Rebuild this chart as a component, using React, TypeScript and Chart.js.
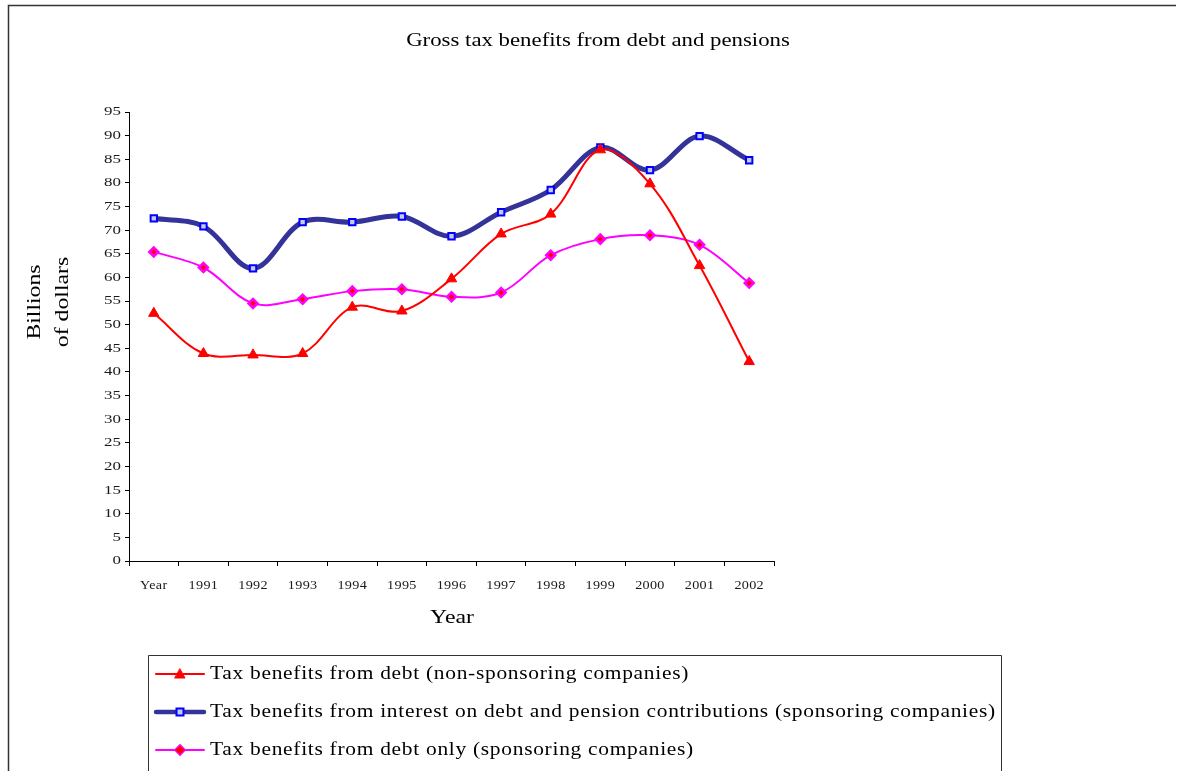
import React, { useEffect, useRef } from 'react';
import { Chart, registerables } from 'chart.js';

Chart.register(...registerables);

const categories = ['Year', '1991', '1992', '1993', '1994', '1995', '1996', '1997', '1998', '1999', '2000', '2001', '2002'];
const debtNonSponsoring = [52.4, 43.9, 43.6, 43.9, 53.7, 52.9, 59.7, 69.2, 73.4, 87.0, 79.8, 62.5, 42.2];
const interestAndPension = [72.5, 70.8, 61.9, 71.7, 71.7, 72.9, 68.7, 73.8, 78.5, 87.5, 82.7, 89.9, 84.8];
const debtOnlySponsoring = [65.4, 62.1, 54.5, 55.4, 57.1, 57.5, 55.9, 56.8, 64.7, 68.1, 68.9, 66.9, 58.8];
const yTicks = [0, 5, 10, 15, 20, 25, 30, 35, 40, 45, 50, 55, 60, 65, 70, 75, 80, 85, 90, 95];

const seriesNames = [
  'Tax benefits from debt (non-sponsoring companies)',
  'Tax benefits from interest on debt and pension contributions (sponsoring companies)',
  'Tax benefits from debt only (sponsoring companies)',
];
const titleText = 'Gross tax benefits from debt and pensions';
const xTitle = 'Year';
const yTitleLines = ['Billions', 'of dollars'];

const SERIF = '"Liberation Serif", "Times New Roman", serif';

function stretchedText(ctx: CanvasRenderingContext2D, text: string, x: number, y: number, sx: number, rot = 0) {
  ctx.save();
  ctx.translate(x, y);
  if (rot) ctx.rotate(rot);
  ctx.scale(sx, 1);
  ctx.fillText(text, 0, 0);
  ctx.restore();
}

function drawMarker(ctx: CanvasRenderingContext2D, kind: number, x: number, y: number) {
  ctx.save();
  if (kind === 0) {
    ctx.fillStyle = '#ff0000';
    ctx.strokeStyle = '#ff0000';
    ctx.lineWidth = 1;
    ctx.beginPath();
    ctx.moveTo(x, y - 5);
    ctx.lineTo(x + 5, y + 4);
    ctx.lineTo(x - 5, y + 4);
    ctx.closePath();
    ctx.fill();
    ctx.stroke();
  } else if (kind === 1) {
    ctx.fillStyle = '#c8c8e8';
    ctx.strokeStyle = '#0000ff';
    ctx.lineWidth = 2;
    ctx.fillRect(x - 3.5, y - 3.5, 7, 7);
    ctx.strokeRect(x - 3.5, y - 3.5, 7, 7);
  } else {
    ctx.fillStyle = '#ff0000';
    ctx.strokeStyle = '#ff00ff';
    ctx.lineWidth = 2.5;
    ctx.beginPath();
    ctx.moveTo(x, y - 4.5);
    ctx.lineTo(x + 4.5, y);
    ctx.lineTo(x, y + 4.5);
    ctx.lineTo(x - 4.5, y);
    ctx.closePath();
    ctx.stroke();
    ctx.fill();
  }
  ctx.restore();
}

const decorPlugin = {
  id: 'decor',
  afterDraw(chart: any) {
    const ctx: CanvasRenderingContext2D = chart.ctx;
    const xs = chart.scales.x;
    const ys = chart.scales.y;
    ctx.save();
    // outer frame
    ctx.strokeStyle = '#333333';
    ctx.lineWidth = 1.5;
    ctx.beginPath();
    ctx.moveTo(8.5, 771);
    ctx.lineTo(8.5, 5.5);
    ctx.lineTo(1176, 5.5);
    ctx.stroke();

    ctx.fillStyle = '#000000';
    ctx.textBaseline = 'middle';

    // tick labels
    ctx.fillStyle = '#1a1a1a';
    ctx.textAlign = 'center';
    ctx.font = `13.5px ${SERIF}`;
    (ctx as any).letterSpacing = '0.3px';
    categories.forEach((c, i) => {
      stretchedText(ctx, c, xs.getPixelForValue(i), 585, 1.05);
    });
    (ctx as any).letterSpacing = '0px';
    ctx.textAlign = 'right';
    ctx.font = `13px ${SERIF}`;
    yTicks.forEach((v) => {
      stretchedText(ctx, String(v), 121, ys.getPixelForValue(v), 1.3);
    });

    // title
    ctx.fillStyle = '#000000';
    ctx.textAlign = 'center';
    ctx.font = `19px ${SERIF}`;
    stretchedText(ctx, titleText, 598, 41, 1.2);

    // x title
    stretchedText(ctx, xTitle, 452, 618, 1.25);

    // y title
    stretchedText(ctx, yTitleLines[0], 35, 302, 1.25, -Math.PI / 2);
    stretchedText(ctx, yTitleLines[1], 63, 302, 1.25, -Math.PI / 2);

    // legend box
    ctx.strokeStyle = '#333333';
    ctx.lineWidth = 1;
    ctx.beginPath();
    ctx.moveTo(148.5, 771);
    ctx.lineTo(148.5, 655.5);
    ctx.lineTo(1001.5, 655.5);
    ctx.lineTo(1001.5, 771);
    ctx.stroke();

    const rowsY = [674, 712, 750];
    const colors = ['#ff0000', '#333399', '#ff00ff'];
    const widths = [2, 4.5, 2];
    ctx.font = `18px ${SERIF}`;
    ctx.textAlign = 'left';
    (ctx as any).letterSpacing = '0.6px';
    rowsY.forEach((y, i) => {
      ctx.strokeStyle = colors[i];
      ctx.lineWidth = widths[i];
      ctx.lineCap = 'round';
      ctx.beginPath();
      ctx.moveTo(156, y);
      ctx.lineTo(204, y);
      ctx.stroke();
      drawMarker(ctx, i, 180, y);
      ctx.fillStyle = '#000000';
      stretchedText(ctx, seriesNames[i], 210, y, 1.19);
    });
    (ctx as any).letterSpacing = '0px';
    ctx.restore();
  },
};

export default function App() {
  const ref = useRef<HTMLCanvasElement | null>(null);

  useEffect(() => {
    if (!ref.current) return;
    const chart = new Chart(ref.current, {
      type: 'line',
      data: {
        labels: categories,
        datasets: [
          {
            label: seriesNames[0],
            data: debtNonSponsoring,
            borderColor: '#ff0000',
            backgroundColor: '#ff0000',
            borderWidth: 2,
            pointStyle: 'triangle',
            pointRadius: 6,
            pointBorderWidth: 1,
            pointBackgroundColor: '#ff0000',
            pointBorderColor: '#ff0000',
            tension: 0.35,
            order: 1,
          },
          {
            label: seriesNames[1],
            data: interestAndPension,
            borderColor: '#333399',
            backgroundColor: '#333399',
            borderWidth: 5,
            pointStyle: 'rect',
            pointRadius: 4.5,
            pointBorderWidth: 2,
            pointBackgroundColor: '#c8c8e8',
            pointBorderColor: '#0000ff',
            tension: 0.35,
            order: 2,
          },
          {
            label: seriesNames[2],
            data: debtOnlySponsoring,
            borderColor: '#ff00ff',
            backgroundColor: '#ff00ff',
            borderWidth: 2,
            pointStyle: 'rectRot',
            pointRadius: 4.5,
            pointBorderWidth: 2.5,
            pointBackgroundColor: '#ff0000',
            pointBorderColor: '#ff00ff',
            tension: 0.35,
            order: 3,
          },
        ],
      },
      options: {
        responsive: false,
        animation: false,
        layout: { padding: { left: 0, top: 112, right: 406, bottom: 180 } },
        plugins: {
          legend: { display: false },
          title: { display: false },
          tooltip: { enabled: false },
        },
        scales: {
          x: {
            type: 'category',
            offset: true,
            afterFit: (s: any) => { s.height = 30; },
            grid: { display: true, offset: true, drawOnChartArea: false, tickLength: 5, color: '#000000', lineWidth: 1 },
            border: { display: true, color: '#000000', width: 1 },
            ticks: { display: false, autoSkip: false },
          },
          y: {
            min: 0,
            max: 95,
            afterFit: (s: any) => { s.width = 129; },
            afterBuildTicks: (s: any) => { s.ticks = yTicks.map((v) => ({ value: v })); },
            grid: { display: true, drawOnChartArea: false, tickLength: 4, color: '#000000', lineWidth: 1 },
            border: { display: true, color: '#000000', width: 1 },
            ticks: { display: false },
          },
        },
      },
      plugins: [decorPlugin],
    });
    return () => chart.destroy();
  }, []);

  return (
    <div style={{ position: 'fixed', left: 0, top: 0, width: 1180, height: 771, background: '#ffffff' }}>
      <canvas ref={ref} width={1180} height={771} style={{ width: 1180, height: 771, display: 'block' }} />
    </div>
  );
}
